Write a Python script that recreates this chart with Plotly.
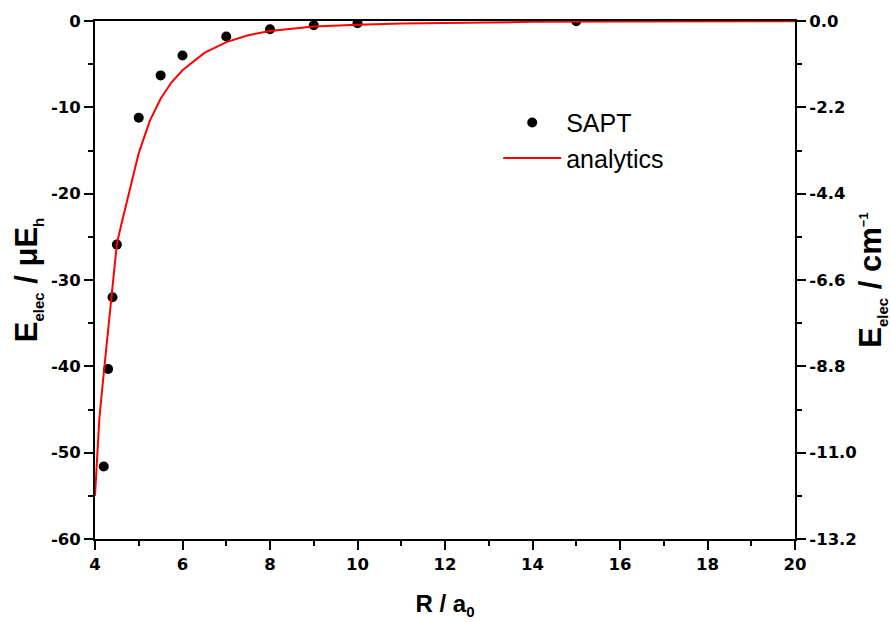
import plotly.graph_objects as go

# SAPT electrostatic energies (R in bohr, E in micro-hartree)
sapt_r = [4.2, 4.3, 4.4, 4.5, 5.0, 5.5, 6.0, 7.0, 8.0, 9.0, 10.0, 15.0]
sapt_e = [-51.6, -40.3, -32.0, -25.9, -11.2, -6.3, -4.0, -1.8, -0.95, -0.5, -0.27, -0.03]

# Analytic model curve
model_r = [4.0, 4.1, 4.2, 4.3, 4.4, 4.5, 4.6, 4.7, 4.8, 4.9, 5.0, 5.25, 5.5, 5.75,
           6.0, 6.5, 7.0, 7.5, 8.0, 9.0, 10.0, 11.0, 12.0, 13.0, 14.0, 16.0, 18.0, 20.0]
model_e = [-55.0, -46.0, -40.8, -35.8, -30.5, -25.8, -23.6, -21.6, -19.6, -17.4, -15.3,
           -11.6, -9.0, -7.1, -5.7, -3.7, -2.45, -1.65, -1.15, -0.65, -0.42, -0.28,
           -0.2, -0.14, -0.1, -0.05, -0.03, -0.02]

# Axis ticks
x_ticks = [4, 6, 8, 10, 12, 14, 16, 18, 20]
y_ticks = [0, -10, -20, -30, -40, -50, -60]
y_labels = ["0", "-10", "-20", "-30", "-40", "-50", "-60"]
y2_ticks = [0.0, -2.2, -4.4, -6.6, -8.8, -11.0, -13.2]
y2_labels = ["0.0", "-2.2", "-4.4", "-6.6", "-8.8", "-11.0", "-13.2"]

FONT = "Liberation Sans, Arial, sans-serif"
TICKFONT = "DejaVu Sans, sans-serif"
tickfont = dict(family=TICKFONT, size=16.5, color="black", weight="bold")


def small(txt, px):
    return f"<span style='font-size:{px}px'>{txt}</span>"


left_title = f"<b>E<sub>{small('elec', 15)}</sub> / μE<sub>{small('h', 15)}</sub></b>"
right_title = f"<b>E<sub>{small('elec', 15)}</sub> / cm<sup>{small('−1', 13)}</sup></b>"
bottom_title = f"<b>R / a<sub>{small('0', 15)}</sub></b>"

fig = go.Figure()
fig.add_trace(go.Scatter(
    x=sapt_r, y=sapt_e, mode="markers", name="SAPT",
    marker=dict(color="black", size=10),
))
fig.add_trace(go.Scatter(
    x=model_r, y=model_e, mode="lines", name="analytics",
    line=dict(color="red", width=2),
))
# Carrier for the cm^-1 axis on the right
fig.add_trace(go.Scatter(
    x=[20], y=[0], yaxis="y2", mode="markers", showlegend=False,
    marker=dict(opacity=0), hoverinfo="skip",
))

axis_common = dict(
    showline=True, linecolor="black", linewidth=2,
    ticks="outside", ticklen=9, tickwidth=2, tickcolor="black",
    showgrid=False, zeroline=False, tickfont=tickfont, automargin=False,
)
minor_common = dict(ticklen=5, tickwidth=2, ticks="outside", tickcolor="black")

fig.update_layout(
    width=891, height=622,
    margin=dict(l=95, r=96, t=21, b=83),
    plot_bgcolor="white", paper_bgcolor="white",
    font=dict(family=FONT, color="black"),
    xaxis=dict(
        **axis_common, range=[4, 20], tickvals=x_ticks, mirror=True,
        minor=dict(dtick=1, **minor_common),
        title=dict(text=bottom_title, font=dict(family=FONT, size=24), standoff=22),
    ),
    yaxis=dict(
        **axis_common, range=[-60, 0], tickvals=y_ticks, ticktext=y_labels,
        minor=dict(tickvals=[-5, -15, -25, -35, -45, -55], **minor_common),
        title=dict(text=left_title, font=dict(family=FONT, size=31), standoff=4),
    ),
    yaxis2=dict(
        **axis_common, overlaying="y", side="right", range=[-13.2, 0],
        tickvals=y2_ticks, ticktext=y2_labels,
        minor=dict(tickvals=[-1.1, -3.3, -5.5, -7.7, -9.9, -12.1], **minor_common),
        title=dict(text=right_title, font=dict(family=FONT, size=31), standoff=4),
    ),
    legend=dict(
        x=0.576, y=0.848, xanchor="left", yanchor="top",
        bgcolor="rgba(0,0,0,0)", font=dict(family=FONT, size=25, color="black"),
        itemwidth=58, tracegroupgap=0,
    ),
    showlegend=True,
)

fig.write_html("out.html")
